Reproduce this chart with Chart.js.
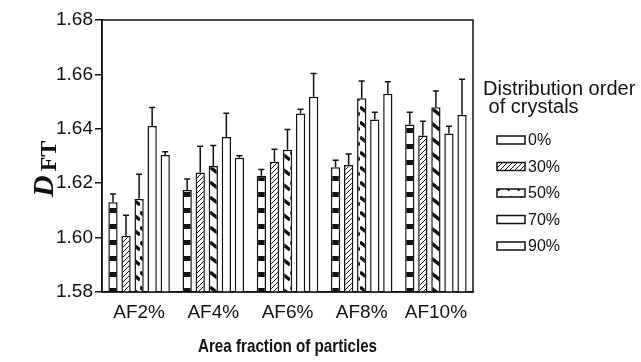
<!DOCTYPE html>
<html>
<head>
<meta charset="utf-8">
<script src="https://cdn.jsdelivr.net/npm/chart.js@4/dist/chart.umd.min.js"></script>
<style>
  html, body { margin: 0; padding: 0; background: #fff; }
</style>
</head>
<body>
<canvas id="chart" width="641" height="362"></canvas>
<script>
const categories = ['AF2%', 'AF4%', 'AF6%', 'AF8%', 'AF10%'];
const orders = ['0%', '30%', '50%', '70%', '90%'];

// mean D_FT for each distribution order, per area fraction
const order0 = [1.613, 1.6175, 1.6227, 1.6259, 1.6416];
const order30 = [1.6007, 1.6239, 1.6279, 1.6267, 1.6375];
const order50 = [1.6143, 1.6263, 1.6323, 1.6512, 1.6479];
const order70 = [1.641, 1.637, 1.6456, 1.6434, 1.6383];
const order90 = [1.6304, 1.6294, 1.6518, 1.6529, 1.6451];

// upper error bars
const err0 = [0.003, 0.004, 0.0023, 0.0025, 0.0045];
const err30 = [0.0075, 0.0097, 0.0046, 0.004, 0.0053];
const err50 = [0.009, 0.0076, 0.0074, 0.0064, 0.006];
const err70 = [0.0068, 0.0087, 0.0016, 0.0027, 0.0026];
const err90 = [0.0012, 0.0007, 0.0085, 0.0044, 0.0131];

const yMin = 1.58;
const yMax = 1.68;
const yStep = 0.02;

const INK = '#111';
const SANS = '"Liberation Sans", Arial, sans-serif';
const SERIF = '"Liberation Serif", "Times New Roman", serif';

const makePattern = (w, h, draw) => {
  const c = document.createElement('canvas');
  c.width = w;
  c.height = h;
  const g = c.getContext('2d');
  g.fillStyle = '#fff';
  g.fillRect(0, 0, w, h);
  g.fillStyle = INK;
  g.strokeStyle = INK;
  draw(g, w, h);
  return g.createPattern(c, 'repeat');
};

// black horizontal bands
const bands = makePattern(8, 16, (g, w) => g.fillRect(0, 0, w, 5));

// thin "/" hatching
const hatch = makePattern(5, 5, (g) => {
  g.lineWidth = 1;
  g.beginPath();
  g.moveTo(-1, 6); g.lineTo(6, -1);
  g.moveTo(-1, 1); g.lineTo(1, -1);
  g.moveTo(4, 6); g.lineTo(6, 4);
  g.stroke();
});

// thick "\" dashes
const slashes = makePattern(10, 15, (g) => {
  g.lineWidth = 3.5;
  g.beginPath();
  g.moveTo(0, 2); g.lineTo(10, 10);
  g.stroke();
});

const series = [
  { data: order0, errors: err0, fill: bands, legendFill: '#fff' },
  { data: order30, errors: err30, fill: hatch, legendFill: hatch },
  { data: order50, errors: err50, fill: slashes, legendFill: slashes },
  { data: order70, errors: err70, fill: '#fff', legendFill: '#fff' },
  { data: order90, errors: err90, fill: '#fff', legendFill: '#fff' },
];

const frame = {
  id: 'frame',
  afterDraw(chart) {
    const { ctx, chartArea: a } = chart;
    ctx.save();
    ctx.strokeStyle = INK;
    ctx.lineWidth = 1.5;
    ctx.strokeRect(a.left, a.top, a.right - a.left, a.bottom - a.top);
    ctx.restore();
  },
};

const errorBars = {
  id: 'errorBars',
  afterDatasetsDraw(chart) {
    const { ctx, scales: { y } } = chart;
    ctx.save();
    ctx.strokeStyle = INK;
    ctx.lineWidth = 1.5;
    chart.data.datasets.forEach((ds, i) => {
      chart.getDatasetMeta(i).data.forEach((bar, j) => {
        const top = y.getPixelForValue(ds.data[j] + ds.errors[j]);
        ctx.beginPath();
        ctx.moveTo(bar.x, bar.y);
        ctx.lineTo(bar.x, top);
        ctx.moveTo(bar.x - 3, top);
        ctx.lineTo(bar.x + 3, top);
        ctx.stroke();
      });
    });
    ctx.restore();
  },
};

// axis titles: rotated D with subscript FT, and a condensed bold x title
const axisTitles = {
  id: 'axisTitles',
  afterDraw(chart) {
    const { ctx, chartArea: a } = chart;
    ctx.save();
    ctx.translate(53, 197);
    ctx.rotate(-Math.PI / 2);
    ctx.fillStyle = INK;
    ctx.textBaseline = 'alphabetic';
    ctx.font = `italic bold 30px ${SERIF}`;
    ctx.fillText('D', 0, 0);
    const dw = ctx.measureText('D').width;
    ctx.font = `bold 24px ${SERIF}`;
    ctx.fillText('FT', dw + 4, 3);
    ctx.restore();

    ctx.save();
    ctx.translate((a.left + a.right) / 2, 347);
    ctx.scale(0.8, 1);
    ctx.fillStyle = INK;
    ctx.textAlign = 'center';
    ctx.textBaseline = 'middle';
    ctx.font = `bold 19px ${SANS}`;
    ctx.fillText('Area fraction of particles', 0, 0);
    ctx.restore();
  },
};

const sideLegend = {
  id: 'sideLegend',
  afterDraw(chart) {
    const { ctx } = chart;
    ctx.save();
    ctx.fillStyle = INK;
    ctx.textBaseline = 'middle';
    ctx.font = `20px ${SANS}`;
    ctx.fillText('Distribution order', 483, 89);
    ctx.fillText(' of crystals', 483, 107);
    ctx.font = `16px ${SANS}`;
    chart.data.datasets.forEach((ds, i) => {
      const cy = 140 + i * 26.5;
      ctx.fillStyle = ds.legendFill;
      ctx.fillRect(497, cy - 4, 28, 8);
      ctx.strokeStyle = INK;
      ctx.lineWidth = 1.5;
      ctx.strokeRect(497, cy - 4, 28, 8);
      ctx.fillStyle = INK;
      ctx.fillText(ds.label, 528, cy + 1);
    });
    ctx.restore();
  },
};

new Chart(document.getElementById('chart'), {
  type: 'bar',
  data: {
    labels: categories,
    datasets: series.map((s, i) => ({
      label: orders[i],
      data: s.data,
      errors: s.errors,
      legendFill: s.legendFill,
      backgroundColor: s.fill,
      borderColor: INK,
      borderWidth: 1.5,
      barPercentage: 0.71,
      categoryPercentage: 0.88,
    })),
  },
  options: {
    responsive: false,
    devicePixelRatio: 1,
    animation: false,
    layout: { padding: { left: 0, right: 168, top: 20, bottom: 0 } },
    plugins: {
      legend: { display: false },
      tooltip: { enabled: false },
    },
    scales: {
      x: {
        grid: { display: false, drawTicks: false },
        border: { display: true, color: INK, width: 1.5 },
        ticks: { color: INK, font: { family: SANS, size: 19 }, padding: 9 },
        afterFit: (scale) => { scale.height = 70; },
      },
      y: {
        min: yMin,
        max: yMax,
        grid: { display: true, drawOnChartArea: false, drawTicks: true, tickLength: 7, color: INK, lineWidth: 1.5 },
        border: { display: true, color: INK, width: 1.5 },
        ticks: {
          stepSize: yStep,
          color: INK,
          font: { family: SANS, size: 19 },
          padding: 2,
          callback: (v) => v.toFixed(2),
        },
        afterFit: (scale) => { scale.width = 102; },
      },
    },
  },
  plugins: [frame, errorBars, axisTitles, sideLegend],
});
</script>
</body>
</html>
